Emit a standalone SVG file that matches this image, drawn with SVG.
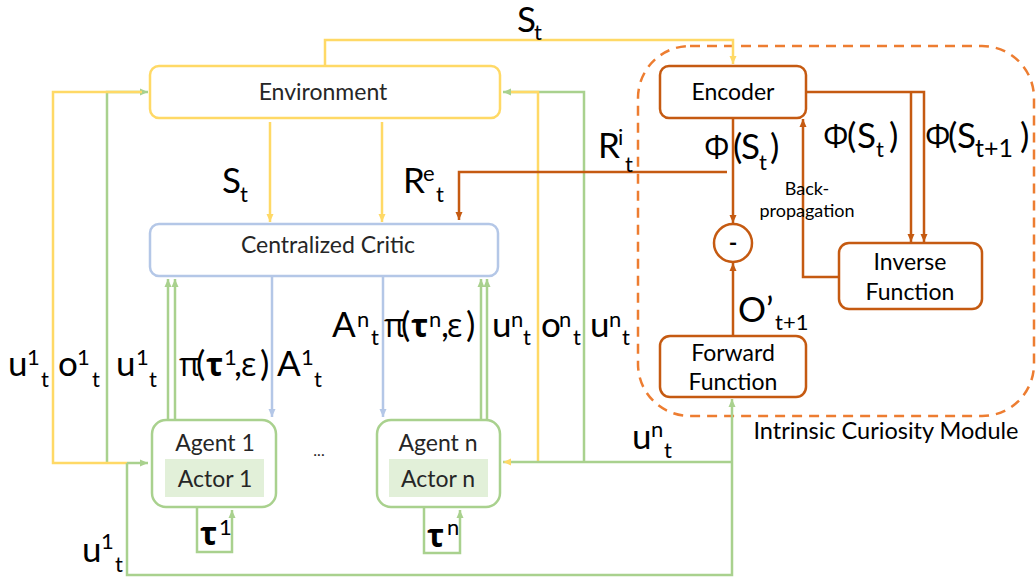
<svg xmlns="http://www.w3.org/2000/svg" width="1036" height="581" viewBox="0 0 1036 581">
<style>
.c{fill:none;stroke-width:2.5}
.y{stroke:#FFD966}
.g{stroke:#A9D18E}
.b{stroke:#B4C7E7}
.o{stroke:#C55A11}
.box{fill:#fff;stroke-width:2.5}
.nt{font-family:Lato,"Liberation Sans",sans-serif;font-size:23px;fill:#262626;text-anchor:middle}
.lb{font-family:Lato,"Noto Sans","DejaVu Sans",sans-serif;font-size:35px;fill:#000}
.s{font-size:22px}
.gr{font-family:"Open Sans","Noto Sans","DejaVu Sans",sans-serif;font-size:32px}
.bd{font-weight:bold}
</style>
<defs>
<marker id="ay" markerUnits="userSpaceOnUse" markerWidth="9" markerHeight="8" refX="8" refY="4" orient="auto"><path d="M0,0.5 L8,4 L0,7.5z" fill="#FFD966"/></marker>
<marker id="ag" markerUnits="userSpaceOnUse" markerWidth="9" markerHeight="8" refX="8" refY="4" orient="auto"><path d="M0,0.5 L8,4 L0,7.5z" fill="#A9D18E"/></marker>
<marker id="ab" markerUnits="userSpaceOnUse" markerWidth="9" markerHeight="8" refX="8" refY="4" orient="auto"><path d="M0,0.5 L8,4 L0,7.5z" fill="#B4C7E7"/></marker>
<marker id="ao" markerUnits="userSpaceOnUse" markerWidth="9" markerHeight="8" refX="8" refY="4" orient="auto"><path d="M0,0.5 L8,4 L0,7.5z" fill="#C55A11"/></marker>
</defs>
<rect width="1036" height="581" fill="#fff"/>

<g id="icm-boundary">
<rect x="638" y="46" width="396" height="370" rx="52" fill="none" stroke="#ED7D31" stroke-width="2.5" stroke-dasharray="10 7"/>
<text x="886" y="439" class="nt" style="font-size:23.5px;fill:#000">Intrinsic Curiosity Module</text>
</g>

<g id="connectors">
<path class="c y" d="M325,66 V40 H733 V64" marker-end="url(#ay)"/>
<path class="c y" d="M270,122 V222" marker-end="url(#ay)"/>
<path class="c y" d="M382,122 V222" marker-end="url(#ay)"/>
<path class="c g" d="M107,463 V92 H148" marker-end="url(#ag)"/>
<path class="c y" d="M127,463 H53 V92 H142"/>
<path class="c g" d="M127,463 H148" marker-end="url(#ag)"/>
<path class="c g" d="M127,463 V575 H732 V399" marker-end="url(#ag)"/>
<path class="c g" d="M584,462 V92 H503" marker-end="url(#ag)"/>
<path class="c y" d="M538,462 V92 H511"/>
<path class="c g" d="M732,462 H503" marker-end="url(#ay)"/>
<path class="c b" d="M272,277 V417" marker-end="url(#ab)"/>
<path class="c b" d="M383,277 V417" marker-end="url(#ab)"/>
<path class="c g" d="M168,419 V279" marker-end="url(#ag)"/>
<path class="c g" d="M175,419 V279" marker-end="url(#ag)"/>
<path class="c g" d="M481,419 V279" marker-end="url(#ag)"/>
<path class="c g" d="M487,419 V279" marker-end="url(#ag)"/>
<path class="c g" d="M197,508 V552 H232 V510" marker-end="url(#ag)"/>
<path class="c g" d="M424,508 V553 H460 V510" marker-end="url(#ag)"/>
<path class="c o" d="M733,118 V223" marker-end="url(#ao)"/>
<path class="c o" d="M733,336 V263" marker-end="url(#ao)"/>
<path class="c o" d="M727,172 H459 V220" marker-end="url(#ao)"/>
<path class="c o" d="M806,92 H924 V242" marker-end="url(#ao)"/>
<path class="c o" d="M911,92 V242" marker-end="url(#ao)"/>
<path class="c o" d="M839,277 H803 V119" marker-end="url(#ao)"/>
</g>

<g id="environment">
<rect x="150" y="66" width="350" height="52" rx="9" class="box y"/>
<text x="323" y="100" class="nt">Environment</text>
</g>
<g id="critic">
<rect x="150" y="224" width="348" height="52" rx="9" class="box b"/>
<text x="328" y="253" class="nt">Centralized Critic</text>
</g>
<g id="encoder">
<rect x="660" y="66" width="146" height="52" rx="9" class="box o"/>
<text x="733" y="100" class="nt" style="fill:#000">Encoder</text>
</g>
<g id="inverse">
<rect x="839" y="243" width="143" height="66" rx="10" class="box o"/>
<text x="910" y="270" class="nt" style="fill:#000">Inverse</text>
<text x="910" y="300" class="nt" style="fill:#000">Function</text>
</g>
<g id="forward">
<rect x="660" y="336" width="146" height="61" rx="10" class="box o"/>
<text x="733" y="361" class="nt" style="fill:#000">Forward</text>
<text x="733" y="390" class="nt" style="fill:#000">Function</text>
</g>
<g id="minus">
<circle cx="733" cy="243" r="19" class="box o"/>
<text x="733" y="251" class="nt" style="fill:#000;font-weight:bold">-</text>
</g>
<g id="agent1">
<rect x="152" y="420" width="124" height="87" rx="14" class="box g"/>
<rect x="165" y="459" width="99" height="38" fill="#E2F0D9"/>
<text x="215" y="451" class="nt">Agent 1</text>
<text x="215" y="487" class="nt">Actor 1</text>
</g>
<g id="agentn">
<rect x="377" y="420" width="123" height="87" rx="14" class="box g"/>
<rect x="389" y="459" width="99" height="38" fill="#E2F0D9"/>
<text x="438" y="451" class="nt">Agent n</text>
<text x="438" y="487" class="nt">Actor n</text>
</g>
<text x="319" y="456" class="nt" style="font-size:16px">...</text>
<g id="backprop-label">
<text x="807" y="195" class="nt" style="font-size:18px;fill:#000">Back-</text>
<text x="807" y="217" class="nt" style="font-size:18px;fill:#000">propagation</text>
</g>

<g id="labels">
<text class="lb"><tspan x="517" y="32">S</tspan><tspan class="s" x="534" y="40">t</tspan></text>
<text class="lb"><tspan x="222" y="193">S</tspan><tspan class="s" x="240" y="202">t</tspan></text>
<text class="lb"><tspan x="403" y="193">R</tspan><tspan class="s" x="423" y="181">e</tspan><tspan class="s" x="436" y="202">t</tspan></text>
<text class="lb"><tspan x="598" y="158">R</tspan><tspan class="s" x="618" y="145">i</tspan><tspan class="s" x="625" y="172">t</tspan></text>
<text class="lb"><tspan class="gr" x="704" y="159">Φ</tspan><tspan x="733" y="159">(</tspan><tspan x="741" y="159">S</tspan><tspan class="s" x="759" y="170">t</tspan><tspan x="770" y="159">)</tspan></text>
<text class="lb"><tspan class="gr" x="823" y="148">Φ</tspan><tspan x="847" y="148">(</tspan><tspan x="857" y="148">S</tspan><tspan class="s" x="876" y="157">t</tspan><tspan x="889" y="148">)</tspan></text>
<text class="lb"><tspan class="gr" x="925" y="148">Φ</tspan><tspan x="948" y="148">(</tspan><tspan x="957" y="148">S</tspan><tspan class="s" x="975" y="157" style="font-size:25px">t+1</tspan><tspan x="1020" y="148">)</tspan></text>
<text class="lb"><tspan x="738" y="322">O’</tspan><tspan class="s" x="775" y="330">t+1</tspan></text>

<text class="lb"><tspan x="8" y="376">u</tspan><tspan class="s" x="27" y="365">1</tspan><tspan class="s" x="41" y="387">t</tspan></text>
<text class="lb"><tspan x="58" y="376">o</tspan><tspan class="s" x="77" y="365">1</tspan><tspan class="s" x="92" y="387">t</tspan></text>
<text class="lb"><tspan x="116" y="376">u</tspan><tspan class="s" x="136" y="365">1</tspan><tspan class="s" x="149" y="387">t</tspan></text>
<text class="lb"><tspan class="gr" x="179" y="376">π</tspan><tspan x="196" y="376">(</tspan><tspan class="gr bd" x="206" y="376">τ</tspan><tspan class="s" x="224" y="365">1</tspan><tspan x="234" y="376">,</tspan><tspan class="gr" x="241" y="376">ε</tspan><tspan x="260" y="376">)</tspan></text>
<text class="lb"><tspan x="277" y="376">A</tspan><tspan class="s" x="301" y="365">1</tspan><tspan class="s" x="314" y="387">t</tspan></text>

<text class="lb"><tspan x="332" y="337">A</tspan><tspan class="s" x="357" y="327">n</tspan><tspan class="s" x="371" y="345">t</tspan></text>
<text class="lb"><tspan class="gr" x="384" y="337">π</tspan><tspan x="401" y="337">(</tspan><tspan class="gr bd" x="411" y="337">τ</tspan><tspan class="s" x="429" y="327">n</tspan><tspan x="441" y="337">,</tspan><tspan class="gr" x="447" y="337">ε</tspan><tspan x="466" y="337">)</tspan></text>
<text class="lb"><tspan x="492" y="337">u</tspan><tspan class="s" x="511" y="327">n</tspan><tspan class="s" x="523" y="345">t</tspan></text>
<text class="lb"><tspan x="541" y="337">o</tspan><tspan class="s" x="559" y="327">n</tspan><tspan class="s" x="573" y="345">t</tspan></text>
<text class="lb"><tspan x="590" y="337">u</tspan><tspan class="s" x="609" y="327">n</tspan><tspan class="s" x="622" y="345">t</tspan></text>

<text class="lb"><tspan x="632" y="449">u</tspan><tspan class="s" x="651" y="437">n</tspan><tspan class="s" x="664" y="458">t</tspan></text>
<text class="lb"><tspan x="82" y="562">u</tspan><tspan class="s" x="101" y="549">1</tspan><tspan class="s" x="115" y="572">t</tspan></text>

<text class="lb"><tspan class="gr bd" x="200" y="545">τ</tspan><tspan class="s" x="219" y="535">1</tspan></text>
<text class="lb"><tspan class="gr bd" x="427" y="547">τ</tspan><tspan class="s" x="447" y="535">n</tspan></text>
</g>
</svg>
